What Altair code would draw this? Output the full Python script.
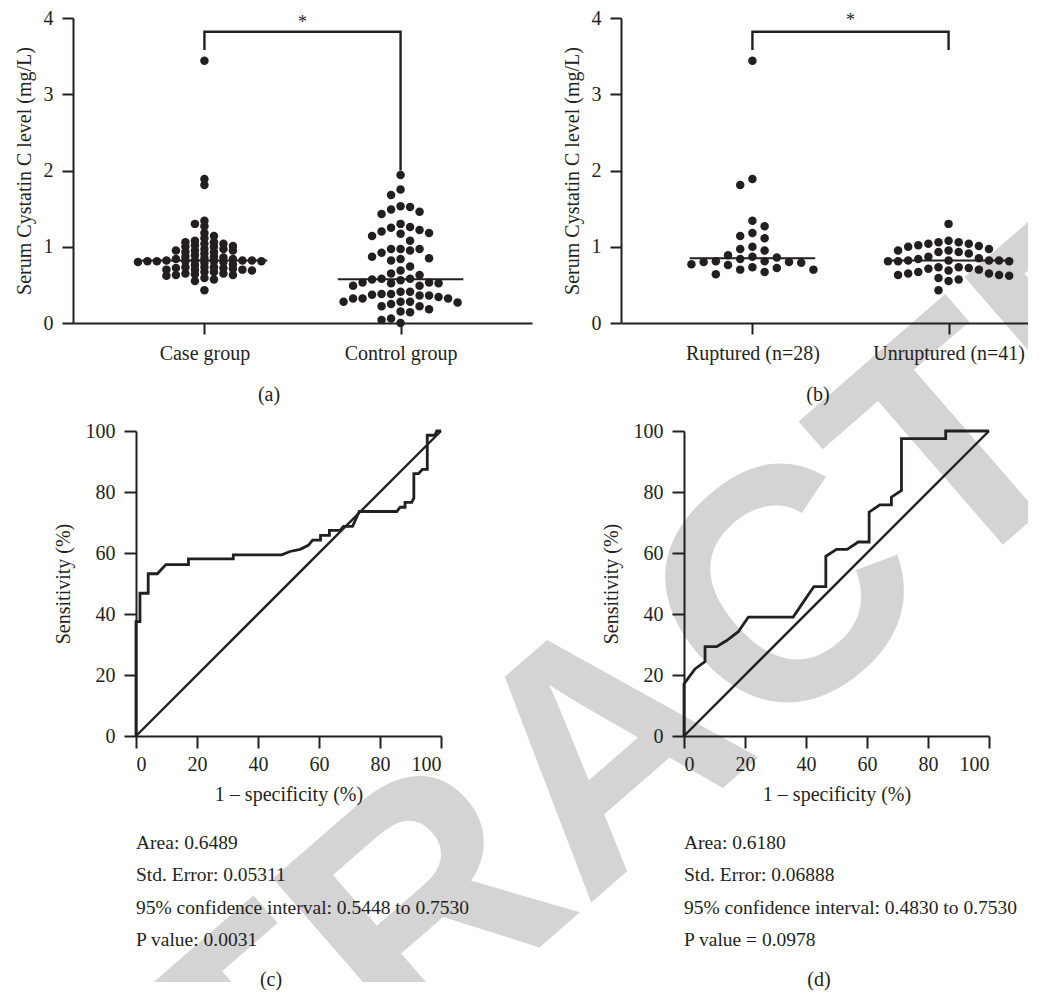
import altair as alt
import numpy as np
import pandas as pd

FONT = "Liberation Serif"
INK = "#231f20"

# ---------------- data ----------------
groups_a = ["Case group", "Control group"]
groups_b = ["Ruptured (n=28)", "Unruptured (n=41)"]

ruptured = [3.44, 1.89, 1.81, 1.34, 1.27, 1.14, 1.18, 1.11, 1.00, 0.97, 0.95, 0.89,
            0.84, 0.86, 0.87, 0.80, 0.79, 0.81, 0.81, 0.80, 0.70, 0.76, 0.70, 0.73,
            0.72, 0.77, 0.64, 0.67]
unruptured = [1.30, 1.00, 1.04, 1.06, 1.02, 1.04, 0.97, 1.06, 0.95, 1.01, 1.08, 0.93,
              0.91, 0.93, 0.95, 0.87, 0.82, 0.81, 0.81, 0.82, 0.85, 0.81, 0.84, 0.82,
              0.82, 0.73, 0.67, 0.69, 0.63, 0.65, 0.55, 0.65, 0.59, 0.62, 0.57, 0.63,
              0.70, 0.73, 0.72, 0.71, 0.43]
case_group = ruptured + unruptured
control_group = [1.94, 1.75, 1.68, 1.53, 1.46, 1.43, 1.49, 1.52, 1.25, 1.20, 1.22, 1.18,
                 1.26, 1.30, 1.08, 1.14, 1.17, 0.97, 0.95, 0.92, 0.87, 0.97, 0.84, 0.82,
                 0.97, 0.85, 0.74, 0.69, 0.63, 0.65, 0.52, 0.58, 0.58, 0.52, 0.57, 0.49,
                 0.53, 0.49, 0.53, 0.56, 0.38, 0.32, 0.38, 0.25, 0.28, 0.28, 0.41, 0.28,
                 0.34, 0.22, 0.32, 0.18, 0.37, 0.22, 0.32, 0.41, 0.27, 0.36, 0.36, 0.14,
                 0.15, 0.00, 0.04, 0.06]

roc_c_fpr = [0, 0, 1.3, 1.3, 4.0, 4.0, 7.0, 9.8, 17.2, 17.2, 31.9, 31.9, 47.8, 50.5, 53.8,
             56.5, 57.9, 60.5, 60.5, 63.4, 63.4, 66.9, 68.0, 71.0, 73.2, 85.5, 86.6, 88.2,
             88.2, 90.4, 91.1, 91.1, 92.6, 93.9, 95.5, 95.5, 98.0, 98.6, 100]
roc_c_tpr = [0, 37.5, 37.5, 46.8, 46.8, 53.2, 53.2, 56.2, 56.2, 58.1, 58.1, 59.4, 59.4, 60.5,
             61.2, 62.5, 64.2, 64.2, 65.8, 65.8, 67.4, 67.4, 68.7, 68.7, 73.6, 73.6, 75.0,
             75.0, 76.6, 76.6, 78.0, 86.0, 86.0, 87.4, 87.4, 98.6, 98.6, 100, 100]
roc_d_fpr = [0, 0, 3.6, 6.9, 6.9, 10.7, 14.0, 17.8, 21.1, 35.8, 39.1, 42.6, 46.5, 46.5, 50.0,
             53.5, 57.1, 60.7, 60.7, 64.2, 68.0, 68.0, 71.3, 71.3, 85.8, 85.8, 100]
roc_d_tpr = [0, 17.1, 22.0, 24.4, 29.3, 29.3, 31.3, 34.2, 39.0, 39.0, 43.9, 49.0, 49.0, 58.9,
             61.2, 61.2, 63.6, 63.6, 73.4, 75.8, 75.8, 78.3, 80.5, 97.5, 97.5, 100, 100]

stats_c = ["Area: 0.6489", "Std. Error: 0.05311",
           "95% confidence interval: 0.5448 to 0.7530", "P value: 0.0031"]
stats_d = ["Area: 0.6180", "Std. Error: 0.06888",
           "95% confidence interval: 0.4830 to 0.7530", "P value = 0.0978"]

watermark = "RETRACTED"

# ---------------- layout constants ----------------
H = 305
W_A = 459
W_B = 407
XL, XR = 0.33, 2.67
PX = W_A / (XR - XL)           # pixels per x unit
YPX = H / 4.0                  # pixels per y unit
AX_FS = 20
TXT_FS = 19.5
WM_W, WM_H = 955, 972


def swarm(values, col_px, min_dy):
    """Column swarm: offsets (in x units) for each value."""
    vals = np.asarray(values, dtype=float)
    order = np.argsort(-vals, kind="stable")
    placed = {}
    offs = np.zeros(len(vals))
    cands = [0]
    for k in range(1, 40):
        cands += [-k, k]
    flip = False
    for i in order:
        y = vals[i] * YPX
        for c in cands:
            cc = -c if flip else c
            if all(abs(y - yy) >= min_dy for yy in placed.get(cc, [])):
                placed.setdefault(cc, []).append(y)
                offs[i] = cc * col_px / PX
                if cc != 0:
                    flip = not flip
                break
    return offs


def dots_frame(groups_vals, col_pxs, min_dys):
    rows = []
    for g, (vals, cp, md) in enumerate(zip(groups_vals, col_pxs, min_dys), start=1):
        offs = swarm(vals, cp, md)
        for v, o in zip(vals, offs):
            rows.append({"x": g + o, "v": v})
    return pd.DataFrame(rows)


def median_frame(groups_vals, half=0.32):
    return pd.DataFrame([{"x": g - half, "x2": g + half, "v": float(np.median(vals))}
                         for g, vals in enumerate(groups_vals, start=1)])


def label_expr(names):
    return f"datum.value == 1 ? '{names[0]}' : '{names[1]}'"


def scatter_panel(groups_vals, col_pxs, min_dys, names, width, xr, bracket_v, star_y, tag, tag_x):
    xenc = alt.X("x:Q", scale=alt.Scale(domain=[XL, xr], nice=False, zero=False),
                 axis=alt.Axis(values=[1, 2], labelExpr=label_expr(names), title=None,
                               labelPadding=9, tickSize=11))
    yenc = alt.Y("v:Q", scale=alt.Scale(domain=[0, 4], nice=False, zero=False),
                 axis=alt.Axis(values=[0, 1, 2, 3, 4], format="d",
                               title="Serum Cystatin C level (mg/L)",
                               labelPadding=9, tickSize=11, titlePadding=9))
    pts = alt.Chart(dots_frame(groups_vals, col_pxs, min_dys)).mark_circle(
        size=72, color=INK, opacity=1).encode(x=xenc, y=yenc)
    med = alt.Chart(median_frame(groups_vals)).mark_rule(
        color=INK, strokeWidth=2).encode(x=xenc, x2="x2:Q", y=yenc)
    br = pd.DataFrame({"x": [1, 1, 2, 2], "v": bracket_v, "i": [0, 1, 2, 3]})
    brk = alt.Chart(br).mark_line(color=INK, strokeWidth=2.4).encode(
        x=xenc, y=yenc, order="i:Q")
    star = alt.Chart(pd.DataFrame({"x": [1.5], "v": [4.0]})).mark_text(
        text="*", font=FONT, fontSize=18, color=INK, baseline="alphabetic").encode(
        x=xenc, y=alt.value(star_y))
    lab = alt.Chart(pd.DataFrame({"t": [tag]})).mark_text(
        font=FONT, fontSize=AX_FS, color=INK, align="center", baseline="middle").encode(
        x=alt.value(tag_x), y=alt.value(377), text="t:N")
    return alt.layer(pts, med, brk, star, lab).properties(width=width, height=H)


def roc_panel(fpr, tpr, stats, tag):
    xenc = alt.X("f:Q", scale=alt.Scale(domain=[0, 100], nice=False),
                 axis=alt.Axis(values=[0, 20, 40, 60, 80, 100], title="1 – specificity (%)",
                               labelPadding=6, tickSize=12, titlePadding=10))
    yenc = alt.Y("s:Q", scale=alt.Scale(domain=[0, 100], nice=False),
                 axis=alt.Axis(values=[0, 20, 40, 60, 80, 100], title="Sensitivity (%)",
                               labelPadding=9, tickSize=12, titlePadding=12))
    curve = pd.DataFrame({"f": fpr, "s": tpr, "i": range(len(fpr))})
    diag = pd.DataFrame({"f": [0, 100], "s": [0, 100], "i": [0, 1]})
    l1 = alt.Chart(diag).mark_line(color=INK, strokeWidth=2.4).encode(x=xenc, y=yenc, order="i:Q")
    l2 = alt.Chart(curve).mark_line(color=INK, strokeWidth=2.8, strokeJoin="miter").encode(
        x=xenc, y=yenc, order="i:Q")
    txt = alt.Chart(pd.DataFrame({"t": ["\n".join(stats)]})).mark_text(
        font=FONT, fontSize=TXT_FS, color=INK, align="left", baseline="middle",
        lineBreak="\n", lineHeight=32.3).encode(
        x=alt.value(0), y=alt.value(412), text="t:N")
    lab = alt.Chart(pd.DataFrame({"t": [tag]})).mark_text(
        font=FONT, fontSize=AX_FS, color=INK, align="center", baseline="middle").encode(
        x=alt.value(135), y=alt.value(549), text="t:N")
    return alt.layer(l1, l2, txt, lab).properties(width=H, height=H)


panel_a = scatter_panel([case_group, control_group], [9.5, 9.5], [4.5, 9.3], groups_a, W_A, XR,
                        [3.58, 3.82, 3.82, 2.0], 10, "(a)", 196)
panel_b = scatter_panel([ruptured, unruptured], [12.2, 10.1], [9.3, 9.3], groups_b, W_B,
                        XL + W_B / PX, [3.58, 3.82, 3.82, 3.58], 8, "(b)", 197)
panel_c = roc_panel(roc_c_fpr, roc_c_tpr, stats_c, "(c)")
panel_d = roc_panel(roc_d_fpr, roc_d_tpr, stats_d, "(d)")

spacer = alt.Chart(pd.DataFrame({"s": [0]})).mark_point(opacity=0, size=1).encode(
    x=alt.value(0), y=alt.value(0)).properties(width=63, height=10)

# background stamp, drawn first so that every panel lies over it
stamp = alt.Chart(pd.DataFrame({"t": [watermark]})).mark_text(
    font="Liberation Sans", fontWeight="bold", fontSize=330, color="#d4d4d4",
    angle=319, align="center", baseline="middle", clip=True).encode(
    x=alt.value(537), y=alt.value(745), text="t:N").properties(width=WM_W, height=WM_H)
stamp_block = alt.vconcat(stamp, bounds="flush")   # nested flush block: zero layout size

top = alt.hconcat(panel_a, panel_b, spacing=89, bounds="flush")
bottom = alt.hconcat(spacer, alt.hconcat(panel_c, panel_d, spacing=243, bounds="flush"),
                     spacing=0, bounds="flush")

# nested flush concats count as zero height, so the row gap includes the plot height
figure = alt.vconcat(top, bottom, spacing=H + 108, bounds="flush")

chart = alt.vconcat(stamp_block, figure, spacing=8, bounds="flush").properties(
    padding={"left": 6, "top": 0, "right": 0, "bottom": 0}
).configure_view(stroke=None).configure_axis(
    domainColor=INK, domainWidth=2, tickColor=INK, tickWidth=2,
    labelColor=INK, labelFont=FONT, labelFontSize=AX_FS,
    titleColor=INK, titleFont=FONT, titleFontSize=AX_FS, titleFontWeight="normal",
    grid=False
)

chart.save("out.html", embed_options={"renderer": "svg", "actions": False})
